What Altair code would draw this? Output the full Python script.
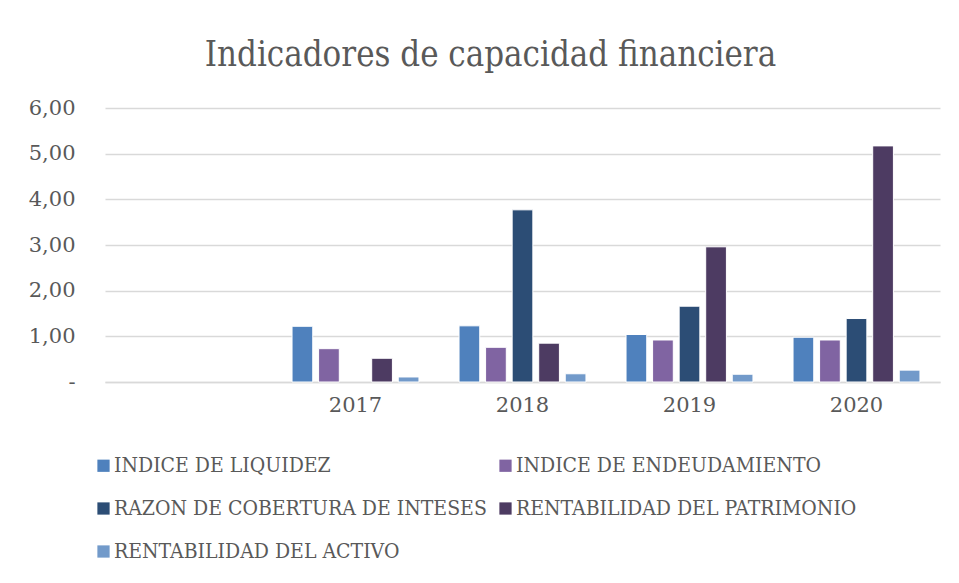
import altair as alt
import pandas as pd

years = ["", "2017", "2018", "2019", "2020"]
series = ["INDICE DE LIQUIDEZ", "INDICE DE ENDEUDAMIENTO", "RAZON DE COBERTURA DE INTESES",
          "RENTABILIDAD DEL PATRIMONIO", "RENTABILIDAD DEL ACTIVO"]
colors = ["#4f81bd", "#8064a2", "#2c4d75", "#4d3b62", "#729aca"]

liquidez = [1.22, 1.23, 1.04, 0.98]
endeudamiento = [0.73, 0.76, 0.92, 0.92]
cobertura = [None, 3.77, 1.66, 1.39]
patrimonio = [0.52, 0.85, 2.96, 5.17]
activo = [0.11, 0.18, 0.17, 0.26]

rows = []
for s, vals in zip(series, [liquidez, endeudamiento, cobertura, patrimonio, activo]):
    for y, v in zip(years[1:], vals):
        rows.append({"year": y, "serie": s, "valor": v})
df = pd.DataFrame(rows)

FONT_C = "DejaVu Serif Condensed, Liberation Serif, serif"
FONT_N = "DejaVu Serif, serif"
GREY = "#595959"

chart = alt.Chart(df).mark_bar(stroke="white", strokeWidth=1).encode(
    x=alt.X("year:N", scale=alt.Scale(domain=years, paddingInner=0.24, paddingOuter=0.12),
            axis=alt.Axis(title=None, labelAngle=0, ticks=False, domainColor="#d9d9d9",
                          domainWidth=1.5, labelFontSize=21, labelColor=GREY, labelFont=FONT_N,
                          labelPadding=12)),
    xOffset=alt.XOffset("serie:N", scale=alt.Scale(domain=series, paddingInner=0.22)),
    y=alt.Y("valor:Q", scale=alt.Scale(domain=[0, 6]),
            axis=alt.Axis(title=None, values=[0, 1, 2, 3, 4, 5, 6], domain=False, ticks=False,
                          labelExpr="datum.value == 0 ? '-' : replace(format(datum.value, '.2f'), '.', ',')",
                          gridColor="#d9d9d9", gridWidth=1.5, labelFontSize=21, labelColor=GREY,
                          labelFont=FONT_N, labelPadding=30)),
    color=alt.Color("serie:N", scale=alt.Scale(domain=series, range=colors),
                    legend=alt.Legend(title=None, orient="none", legendX=-12, legendY=347,
                                      direction="horizontal", columns=2,
                                      symbolType="square", symbolSize=150,
                                      symbolStrokeWidth=0, labelFontSize=21, labelColor=GREY,
                                      labelFont=FONT_C, rowPadding=21, columnPadding=8,
                                      labelOffset=0, labelLimit=500, symbolOffset=0)),
).properties(
    width=835, height=274,
    padding={"left": 97, "top": 100, "right": 11, "bottom": 193},
    autosize=alt.AutoSizeParams(type="none"),
    title=alt.TitleParams("Indicadores de capacidad financiera", fontSize=34.5, color=GREY,
                          font=FONT_C, fontWeight="normal", offset=24, anchor="middle", dx=-32),
).configure_view(stroke=None)

chart.save("out.html", embed_options={"renderer": "svg", "actions": False})
